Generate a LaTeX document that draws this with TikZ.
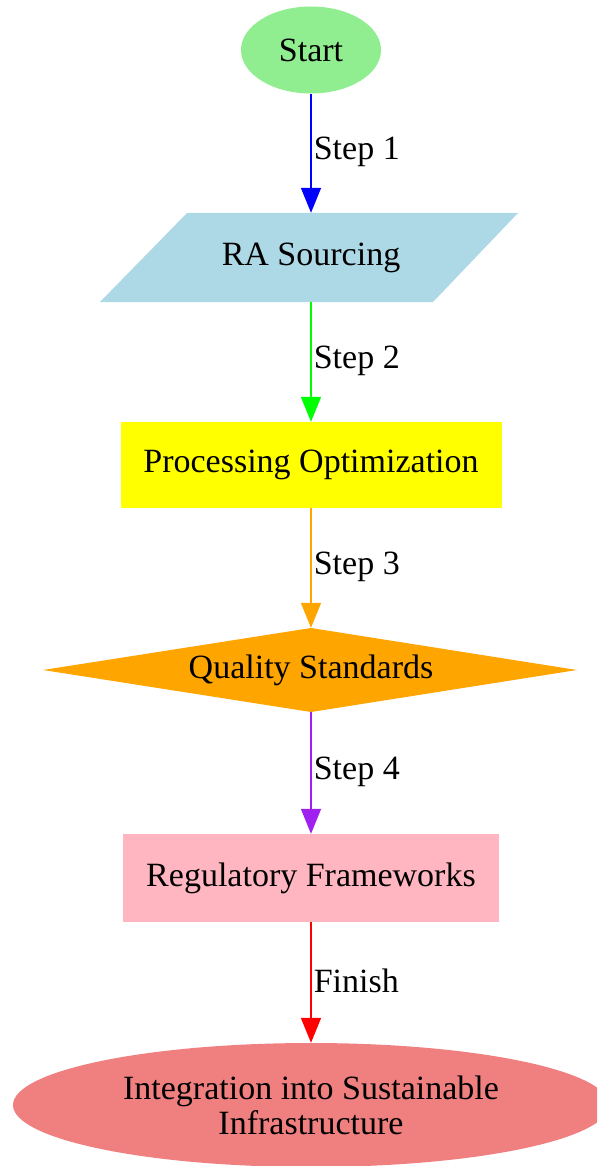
\documentclass[tikz,border=0pt]{standalone}
\usepackage{fontspec}
\setmainfont{Liberation Serif}
\usetikzlibrary{arrows.meta,shapes.geometric}
\definecolor{cstart}{RGB}{144,238,144}
\definecolor{cra}{RGB}{173,216,230}
\definecolor{cproc}{RGB}{255,255,0}
\definecolor{cqual}{RGB}{255,165,0}
\definecolor{creg}{RGB}{255,182,193}
\definecolor{cend}{RGB}{240,128,128}
\definecolor{aone}{RGB}{0,0,255}
\definecolor{atwo}{RGB}{0,255,0}
\definecolor{athree}{RGB}{255,165,0}
\definecolor{afour}{RGB}{160,32,240}
\definecolor{afive}{RGB}{255,0,0}
\begin{document}
\begin{tikzpicture}[x=1pt,y=-1pt,
  every node/.style={font=\fontsize{34}{35}\selectfont, text=black},
  boxnode/.style={rectangle, inner sep=0pt},
  ovalnode/.style={ellipse, inner sep=0pt},
  flow/.style={line width=1.6pt, -{Triangle[length=25pt,width=20pt]}},
  steplabel/.style={anchor=west, inner sep=2pt, pos=0.49}
]
\useasboundingbox (0,0) rectangle (597,1166);
\clip (0,0) rectangle (597,1166);
% shapes
\node[ovalnode, fill=cstart, minimum width=140pt, minimum height=87pt] (start) at (311,50) {Start};
\fill[cra] (187,213) -- (518,213) -- (433,302) -- (100,302) -- cycle;
\node[boxnode, minimum width=250pt, minimum height=89pt] (ra) at (311,257.5) {RA Sourcing};
\node[boxnode, fill=cproc, minimum width=381pt, minimum height=86pt] (proc) at (311,465) {Processing Optimization};
\fill[cqual] (43,670) -- (311,628) -- (577,670) -- (311,712) -- cycle;
\node[boxnode, minimum width=300pt, minimum height=84pt] (qual) at (311,670) {Quality Standards};
\node[boxnode, fill=creg, minimum width=376pt, minimum height=88pt] (reg) at (311,878) {Regulatory Frameworks};
\node[ovalnode, fill=cend, minimum width=596pt, minimum height=124pt, align=center] (final) at (311,1105) {Integration into Sustainable\\Infrastructure};
% connectors
\draw[flow, aone] (start.south) -- (ra.north) node[steplabel] {Step 1};
\draw[flow, atwo] (ra.south) -- (proc.north) node[steplabel] {Step 2};
\draw[flow, athree] (proc.south) -- (qual.north) node[steplabel] {Step 3};
\draw[flow, afour] (qual.south) -- (reg.north) node[steplabel] {Step 4};
\draw[flow, afive] (reg.south) -- (final.north) node[steplabel] {Finish};
\end{tikzpicture}
\end{document}
